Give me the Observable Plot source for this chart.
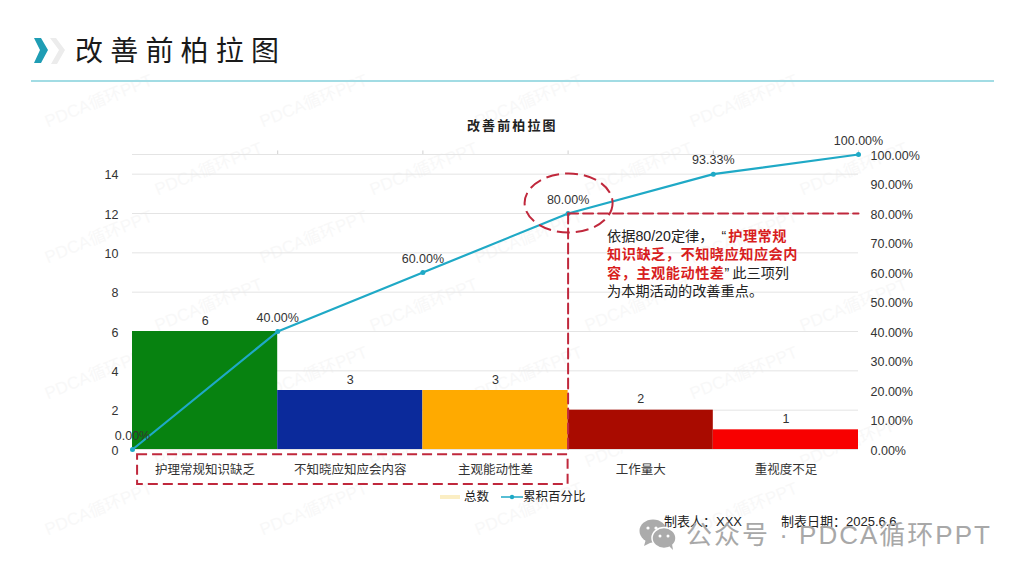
<!DOCTYPE html>
<html lang="zh">
<head>
<meta charset="utf-8">
<script src="https://cdn.jsdelivr.net/npm/d3@7"></script>
<script src="https://cdn.jsdelivr.net/npm/@observablehq/plot@0.6"></script>
<style>
html,body{margin:0;padding:0;background:#fff;width:1024px;height:576px;overflow:hidden}
body{position:relative;font-family:"Liberation Sans","Noto Sans CJK SC",sans-serif;color:#222}
.abs{position:absolute;white-space:nowrap}
#wm{position:absolute;inset:0;overflow:hidden}
#wm span{position:absolute;color:#f8f8f8;font-size:17px;transform:rotate(-22deg);transform-origin:left center;white-space:nowrap}
#chart{position:absolute;left:0;top:0}
#chart svg{background:transparent!important;display:block}
.red{color:#d81e1e;font-weight:bold;letter-spacing:.5px}
</style>
</head>
<body>
<div id="wm"></div>
<div id="chart"></div>
<svg class="abs" style="left:30px;top:34px" width="40" height="36" viewBox="0 0 40 36">
  <path d="M20 4 L29 16 L21 30 L27 30 L35 16 L26 4Z" fill="#ececec"/>
  <path d="M4 4 L11 4 L18 16 L11 29 L4 29 L10 16Z" fill="#1f9db4"/>
</svg>
<div class="abs" style="left:75px;top:34px;font-size:28px;letter-spacing:7.2px;line-height:36px;color:#1a1a1a">改善前柏拉图</div>
<div class="abs" style="left:31px;top:80px;width:963px;height:2px;background:#a2dce4"></div>
<div class="abs" style="left:467px;top:118px;font-size:13px;font-weight:bold;letter-spacing:2.1px;line-height:16px;color:#222">改善前柏拉图</div>
<div class="abs" style="left:607px;top:227px;font-size:14.2px;line-height:18.4px;color:#222">依据80/20定律，<span style="margin-left:8px;margin-right:2px">“</span><span class="red">护理常规</span><br><span class="red">知识缺乏，不知晓应知应会内</span><br><span class="red">容，主观能动性差</span>”<span style="margin-left:3px">此三项列</span><br>为本期活动的改善重点。</div>
<div class="abs" style="left:440px;top:495px;width:20px;height:4px;background:#fbeec4"></div>
<div class="abs" style="left:464px;top:489px;font-size:12.5px;line-height:16px">总数</div>
<svg class="abs" style="left:501px;top:490px" width="22" height="14"><line x1="0" x2="22" y1="7" y2="7" stroke="#1fa9c6" stroke-width="1.5"/><circle cx="11" cy="7" r="2.2" fill="#1fa9c6"/></svg>
<div class="abs" style="left:523px;top:489px;font-size:12.5px;line-height:16px">累积百分比</div>
<div class="abs" style="left:664px;top:514px;font-size:13px;line-height:16px">制表人：XXX</div>
<div class="abs" style="left:781px;top:514px;font-size:13px;line-height:16px">制表日期：2025.6.6</div>
<svg class="abs" style="left:638px;top:519px" width="40" height="32" viewBox="0 0 40 32">
  <ellipse cx="15" cy="12" rx="13.5" ry="11.5" fill="#ababab"/><path d="M8 20 L6 27 L14 23Z" fill="#ababab"/>
  <ellipse cx="26" cy="19" rx="12" ry="10.5" fill="#ababab" stroke="#fff" stroke-width="1.5"/><path d="M31 27 L35 31 L34 25Z" fill="#ababab"/>
  <circle cx="10" cy="9" r="1.6" fill="#fff"/><circle cx="18" cy="9" r="1.6" fill="#fff"/>
  <circle cx="22" cy="17" r="1.5" fill="#fff"/><circle cx="30" cy="17" r="1.5" fill="#fff"/>
</svg>
<div class="abs" style="left:686px;top:518px;font-size:26px;line-height:34px;letter-spacing:2px;color:#a8a8a8">公众号 · PDCA循环PPT</div>
<script>
const categories = ["护理常规知识缺乏","不知晓应知应会内容","主观能动性差","工作量大","重视度不足"];
const counts = [6,3,3,2,1];
const barColors = ["#078210","#0b2a9b","#ffaa00","#a90b00","#f80000"];
const cumulativePct = [0,40,60,80,93.33,100];
const leftTicks = [0,2,4,6,8,10,12,14];
const rightTicks = [0,10,20,30,40,50,60,70,80,90,100];
const watermarkText = "PDCA循环PPT";

// cumulative percent shares the count axis: 100% is the top of the 0–15 scale
const total = d3.sum(counts);
const toCount = p => p / 100 * total;

const bars = categories.map((c,i)=>({c,i,v:counts[i],color:barColors[i]}));
const pts = cumulativePct.map((p,i)=>({i,p}));
const ann = "#c0283c";
const textFont = '"Liberation Sans","Noto Sans CJK SC",sans-serif';

const chart = Plot.plot({
  width:1024,height:576,
  marginLeft:132,marginRight:166,marginTop:154,marginBottom:127,
  style:{background:"transparent",fontFamily:textFont,fontSize:"12px",color:"#333"},
  x:{type:"linear",domain:[0,categories.length],axis:null},
  y:{domain:[0,total],axis:null},
  marks:[
    Plot.ruleY([...leftTicks,total],{stroke:"#e4e4e4",strokeWidth:1}),
    Plot.ruleX(d3.range(1,categories.length+1),{y1:total,y2:total*1.012,stroke:"#d0d0d0"}),
    Plot.rectY(bars,{x1:"i",x2:d=>d.i+1,y1:0,y2:"v",fill:"color",inset:0}),
    Plot.axisY(leftTicks,{anchor:"left",tickSize:0,tickPadding:14,label:null,fontSize:12.5,dy:1,tickFormat:d=>d}),
    Plot.axisY(rightTicks.map(toCount),{anchor:"right",tickSize:0,tickPadding:12,label:null,fontSize:12.5,dy:1,tickFormat:d=>(d/total*100).toFixed(2)+"%"}),
    Plot.text(bars,{x:d=>d.i+.5,y:"v",text:"v",dy:-11,fontSize:12.5,fill:"#333"}),
    Plot.text(bars,{x:d=>d.i+.5,y:0,text:"c",dy:20,fontSize:12.5,fill:"#333"}),
    Plot.line(pts,{x:"i",y:d=>toCount(d.p),stroke:"#1fa9c6",strokeWidth:2.2,curve:"linear"}),
    Plot.dot(pts,{x:"i",y:d=>toCount(d.p),r:2.5,fill:"#1fa9c6"}),
    Plot.text(pts,{x:"i",y:d=>toCount(d.p),text:d=>d.p.toFixed(2)+"%",dy:-14,fontSize:12.5,fill:"#333"}),
    // dashed 80/20 guide
    Plot.line([[3,toCount(80)],[5,toCount(80)]],{stroke:ann,strokeWidth:2,strokeDasharray:"10 5"}),
    Plot.line([[3,toCount(80)],[3,0]],{stroke:ann,strokeWidth:2,strokeDasharray:"10 5"}),
    // dashed box round the first three categories
    Plot.rect([0],{x1:0.035,x2:3,y1:-0.27,y2:-1.78,stroke:ann,strokeWidth:2,strokeDasharray:"10 5",fill:"none"}),
    // dashed ellipse round the 80% point
    (index,{x,y})=>{
      const e=document.createElementNS("http://www.w3.org/2000/svg","ellipse");
      e.setAttribute("cx",x(3)+1);e.setAttribute("cy",y(toCount(80))-10);
      e.setAttribute("rx",44);e.setAttribute("ry",29.5);
      e.setAttribute("fill","none");e.setAttribute("stroke",ann);
      e.setAttribute("stroke-width",2);e.setAttribute("stroke-dasharray","13 6");
      return e;
    }
  ]
});
document.getElementById("chart").append(chart);

const wm=document.getElementById("wm");
for(let r=0;r<9;r++)for(let c=0;c<6;c++){
  const left=-60+c*215+(r%2)*105, top=40+r*68;
  if(left<6||left+125>1018||top<50||top>555) continue;
  const s=document.createElement("span");
  s.textContent=watermarkText;
  s.style.left=left+"px";
  s.style.top=top+"px";
  wm.append(s);
}
</script>
</body>
</html>
